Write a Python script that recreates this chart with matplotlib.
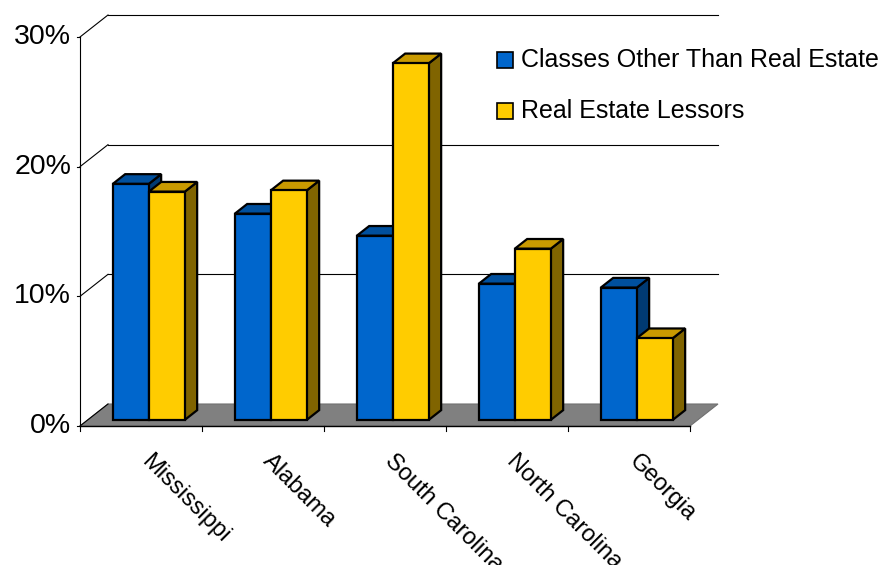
import matplotlib
matplotlib.use("Agg")
import matplotlib.pyplot as plt
from matplotlib.patches import Polygon, Rectangle

plt.rcParams['font.family'] = ['Liberation Sans', 'DejaVu Sans']

states = ['Mississippi', 'Alabama', 'South Carolina', 'North Carolina', 'Georgia']
other_classes = [18.2, 15.9, 14.2, 10.5, 10.2]
real_estate = [17.6, 17.7, 27.5, 13.2, 6.3]
series_names = ['Classes Other Than Real Estate', 'Real Estate Lessors']
y_ticks = [0, 10, 20, 30]

# pixel scale of the drawing: one category = 122 px, one percent = 12.967 px
CAT_PX = 122.0
PCT_PX = 389.0 / 30
X0_PX, Y0_PX = 80.0, 426.0
W_PX, H_PX = 892, 565

# oblique depth offset of the floor, in data units
DX = 28.0 / CAT_PX
DY = 22.0 / PCT_PX

BAR_W = 36.0 / CAT_PX
D_FRONT, D_BACK = 0.28, 0.72

face = {
    'blue': ('#0066CC', '#00509E', '#003A73'),
    'yellow': ('#FFCC00', '#C99A00', '#806400'),
}


def proj(x, y, d):
    return (x + d * DX, y + d * DY)


def draw_bar(ax, x_left, height, colors):
    front, top, side = colors
    x_right = x_left + BAR_W
    f = [proj(x_left, 0, D_FRONT), proj(x_right, 0, D_FRONT),
         proj(x_right, height, D_FRONT), proj(x_left, height, D_FRONT)]
    t = [proj(x_left, height, D_FRONT), proj(x_right, height, D_FRONT),
         proj(x_right, height, D_BACK), proj(x_left, height, D_BACK)]
    s = [proj(x_right, 0, D_FRONT), proj(x_right, 0, D_BACK),
         proj(x_right, height, D_BACK), proj(x_right, height, D_FRONT)]
    for pts, c in ((s, side), (t, top), (f, front)):
        ax.add_patch(Polygon(pts, closed=True, facecolor=c, edgecolor='black',
                             lw=1.6, joinstyle='miter', zorder=4))


fig = plt.figure(figsize=(W_PX / 100, H_PX / 100), dpi=100)
ax = fig.add_axes([0, 0, 1, 1])
ax.set_xlim(-X0_PX / CAT_PX, (W_PX - X0_PX) / CAT_PX)
ax.set_ylim((Y0_PX - H_PX) / PCT_PX, Y0_PX / PCT_PX)
ax.axis('off')

n = len(states)

# back wall gridlines and the slanted ticks joining them to the value axis
for v in y_ticks:
    bx0, by = proj(0, v, 1)
    bx1, _ = proj(n, v, 1)
    if v > 0:
        ax.plot([bx0, bx1], [by, by], color='black', lw=0.8, zorder=0.5)
    ax.plot([0, bx0], [v, by], color='black', lw=0.8, zorder=3)
    ax.plot([-3 / CAT_PX, 0], [v, v], color='black', lw=0.8, zorder=3)
    ax.text(-9 / CAT_PX, v, f'{v}%', ha='right', va='center', fontsize=20.5)

# grey floor
floor = [proj(0, 0, 0), proj(n, 0, 0), proj(n, 0, 1), proj(0, 0, 1)]
ax.add_patch(Polygon(floor, closed=True, facecolor='#808080', edgecolor='#707070',
                     lw=0.8, zorder=1))

# value axis and category axis
ax.plot([0, 0], [0, y_ticks[-1]], color='black', lw=0.8, zorder=3)
ax.plot([0, n], [0, 0], color='black', lw=1.0, zorder=3)
for i in range(n + 1):
    ax.plot([i, i], [0, -5 / PCT_PX], color='black', lw=0.8, zorder=3)

for i in range(n):
    center = i + 0.5
    draw_bar(ax, center - BAR_W, other_classes[i], face['blue'])
    draw_bar(ax, center, real_estate[i], face['yellow'])
    ax.text(center + 0.03, -32 / PCT_PX, states[i], rotation=-45,
            rotation_mode='anchor', ha='left', va='center', fontsize=17)

# legend
fx = lambda px: (px - X0_PX) / CAT_PX
fy = lambda py: (Y0_PX - py) / PCT_PX
for k, (name, key) in enumerate(zip(series_names, ['blue', 'yellow'])):
    cy = 60 + 51 * k
    ax.add_patch(Rectangle((fx(497), fy(cy + 8)), 16 / CAT_PX, 16 / PCT_PX,
                           facecolor=face[key][0], edgecolor='black', lw=1.2,
                           zorder=5))
    ax.text(fx(521), fy(cy), name, ha='left', va='center', fontsize=18, zorder=5)

fig.savefig('out.png', dpi=100)
